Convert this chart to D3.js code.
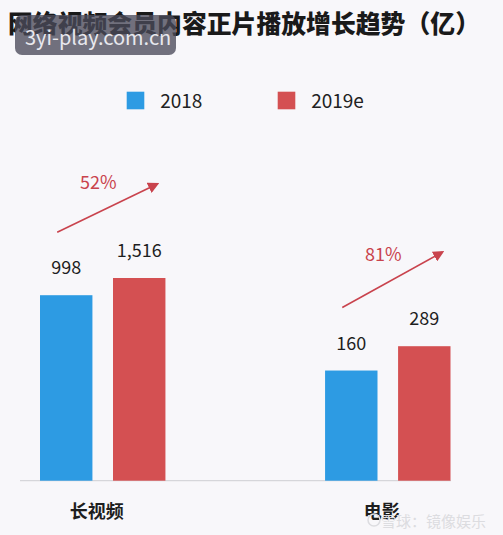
<!DOCTYPE html>
<html><head><meta charset="utf-8">
<script src="https://cdn.jsdelivr.net/npm/d3@7"></script>
<style>
html,body{margin:0;padding:0;background:#f8f7fa;}
svg{display:block;}
text{font-family:"Noto Sans CJK SC","Noto Sans",sans-serif;}
</style></head>
<body>
<script>
const categories = ["长视频", "电影"];
const seriesNames = ["2018", "2019e"];
const values2018 = [998, 160];
const values2019e = [1516, 289];
const valueLabels2018 = ["998", "160"];
const valueLabels2019e = ["1,516", "289"];
const growthLabels = ["52%", "81%"];
const colors = ["#2d9be3", "#d45052"];

const W = 503, H = 535;
const svg = d3.select("body").append("svg").attr("width", W).attr("height", H);
svg.append("rect").attr("width", W).attr("height", H).attr("fill", "#f8f7fa");

const baseline = 480.7;
const x0 = d3.scaleBand().domain(categories).range([40, 450.5]).paddingInner(0.56).paddingOuter(0);
const x1 = d3.scaleBand().domain(seriesNames).range([0, x0.bandwidth()]).paddingInner(0.282).paddingOuter(0);
const y = d3.scaleLog().domain([11, 1516]).range([baseline, 278]);

const data = categories.map((c, i) => ({
  cat: c,
  bars: [
    {s: seriesNames[0], v: values2018[i], label: valueLabels2018[i]},
    {s: seriesNames[1], v: values2019e[i], label: valueLabels2019e[i]}
  ],
  growth: growthLabels[i]
}));

// title
svg.append("text").attr("x", 8).attr("y", 33)
  .attr("font-size", 25).attr("font-weight", 900).attr("fill", "#1a1a1a")
  .attr("textLength", 472).attr("lengthAdjust", "spacingAndGlyphs")
  .text("网络视频会员内容正片播放增长趋势（亿）");

// watermark box
svg.append("rect").attr("x", 15).attr("y", 15).attr("width", 161).attr("height", 40).attr("rx", 7)
  .attr("fill", "#4a4a5a").attr("fill-opacity", 0.78);
svg.append("text").attr("x", 25).attr("y", 45).attr("font-size", 20).attr("fill", "#e8e8ee")
  .attr("font-family", "'Open Sans',sans-serif")
  .text("3yi-play.com.cn");

// legend
const legX = [126.7, 277.7];
seriesNames.forEach((s, i) => {
  svg.append("rect").attr("x", legX[i]).attr("y", 91.7).attr("width", 17.6).attr("height", 17.6).attr("fill", colors[i]);
  svg.append("text").attr("x", legX[i] + 33.5).attr("y", 108).attr("font-size", 19).attr("fill", "#222")
    .attr("font-family", "'Open Sans',sans-serif").text(s);
});

// baseline
svg.append("line").attr("x1", 20).attr("x2", 451).attr("y1", baseline).attr("y2", baseline)
  .attr("stroke", "#d6d6da").attr("stroke-width", 1.2);

const g = svg.selectAll("g.grp").data(data).enter().append("g")
  .attr("transform", d => `translate(${x0(d.cat)},0)`);

g.selectAll("rect.bar").data(d => d.bars).enter().append("rect")
  .attr("x", d => x1(d.s)).attr("width", x1.bandwidth())
  .attr("y", d => y(d.v)).attr("height", d => baseline - y(d.v))
  .attr("fill", (d, i) => colors[i]);

g.selectAll("text.val").data(d => d.bars).enter().append("text")
  .attr("x", d => x1(d.s) + x1.bandwidth() / 2).attr("y", d => y(d.v) - 21)
  .attr("text-anchor", "middle").attr("font-size", 18).attr("fill", "#1e1e1e")
  .attr("font-family", "'Open Sans',sans-serif")
  .text(d => d.label);

// arrows
const defs = svg.append("defs");
defs.append("marker").attr("id", "arr").attr("viewBox", "0 0 10 10").attr("refX", 8).attr("refY", 5)
  .attr("markerWidth", 7).attr("markerHeight", 7).attr("orient", "auto")
  .append("path").attr("d", "M0,0 L10,5 L0,10 Z").attr("fill", "#c9434d");

g.each(function(d) {
  const gg = d3.select(this);
  const b0 = d.bars[0], b1 = d.bars[1];
  const sx = x1(b0.s) + x1.bandwidth() / 2 - 9, sy = y(b0.v) - 63;
  const ex = x1(b1.s) + x1.bandwidth() / 2 + 18, ey = y(b1.v) - 94;
  gg.append("line").attr("x1", sx).attr("y1", sy).attr("x2", ex).attr("y2", ey)
    .attr("stroke", "#c9434d").attr("stroke-width", 1.6).attr("marker-end", "url(#arr)");
  gg.append("text").attr("x", (sx + ex) / 2 - 9).attr("y", (sy + ey) / 2 - 19)
    .attr("text-anchor", "middle").attr("font-size", 18).attr("fill", "#c9434d")
    .attr("font-family", "'Open Sans',sans-serif").text(d.growth);
});

// category labels
g.append("text").attr("x", x0.bandwidth() / 2 - 6).attr("y", 518)
  .attr("text-anchor", "middle").attr("font-size", 18).attr("font-weight", 700).attr("fill", "#1e1e1e")
  .text(d => d.cat);

// bottom watermark
svg.append("circle").attr("cx", 374).attr("cy", 520).attr("r", 6).attr("fill", "none").attr("stroke", "#dcdce0").attr("stroke-width", 1.5);
svg.append("text").attr("x", 381).attr("y", 527).attr("font-size", 15).attr("fill", "#dcdce0")
  .text("雪球：镜像娱乐");
</script>
</body></html>
